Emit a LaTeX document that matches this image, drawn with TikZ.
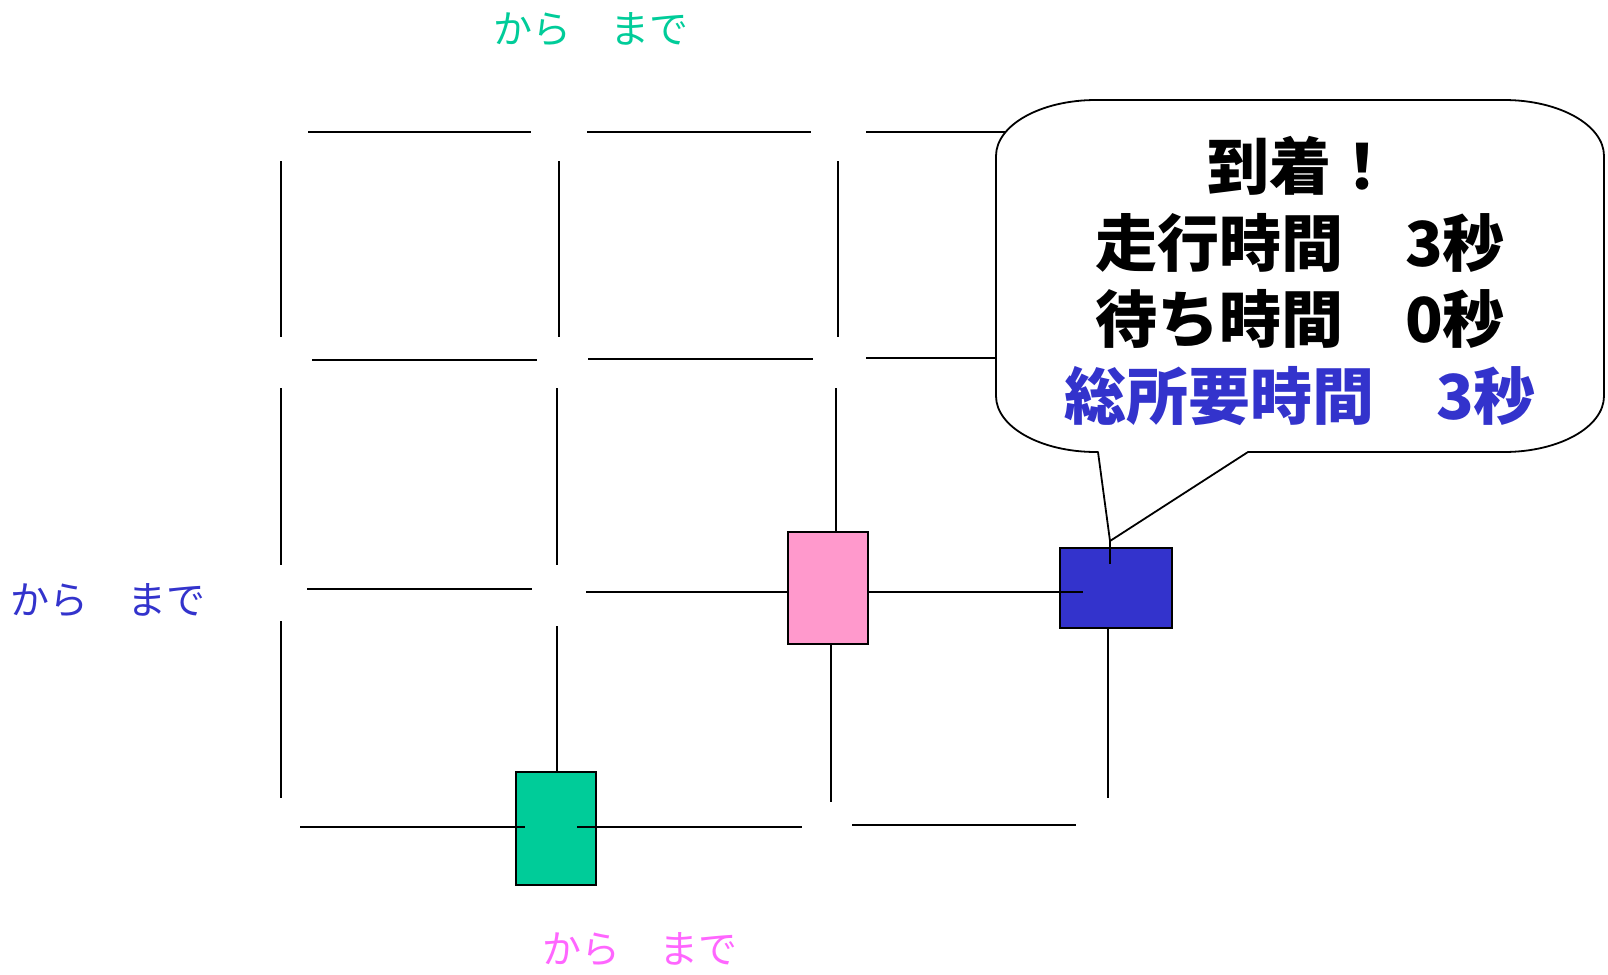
\documentclass[tikz,border=0pt]{standalone}
\usepackage{fontspec}
\newfontfamily\jp{Noto Sans CJK JP}
\definecolor{boxgreen}{RGB}{0,204,153}
\definecolor{boxpink}{RGB}{255,153,204}
\definecolor{boxblue}{RGB}{51,51,204}
\definecolor{txtpink}{RGB}{255,102,255}
\tikzset{
  grid/.style={line width=1.6pt, black},
  sqbox/.style={draw=black, line width=1.8pt, inner sep=0pt, outer sep=0pt},
  bubble/.style={draw=black, fill=white, line width=1.8pt, line join=round},
  bubtxt/.style={inner sep=0pt, anchor=base, font=\jp\bfseries\fontsize{62}{74}\selectfont},
  lbl/.style={inner sep=0pt, anchor=base, font=\jp\fontsize{39}{44}\selectfont}
}
\begin{document}
\begin{tikzpicture}[x=1pt,y=-1pt]
\useasboundingbox (0,0) rectangle (1608,974);
% horizontal grid segments
\draw[grid] (308,132) -- (531,132);
\draw[grid] (587,132) -- (811,132);
\draw[grid] (866,132) -- (1030,132);
\draw[grid] (312,360) -- (537,360);
\draw[grid] (588,359) -- (813,359);
\draw[grid] (866,358) -- (1010,358);
\draw[grid] (307,589) -- (532,589);
% vertical grid segments
\draw[grid] (281,161) -- (281,337);
\draw[grid] (559,161) -- (559,337);
\draw[grid] (838,161) -- (838,337);
\draw[grid] (281,388) -- (281,565);
\draw[grid] (557,388) -- (557,565);
\draw[grid] (281,621) -- (281,798);
% boxes
\node[sqbox, fill=boxgreen, minimum width=80pt, minimum height=113pt] (green) at (556,828.5) {};
\node[sqbox, fill=boxpink, minimum width=80pt, minimum height=112pt] (pink) at (828,588) {};
\node[sqbox, fill=boxblue, minimum width=112pt, minimum height=80pt] (blue) at (1116,588) {};
% connectors touching boxes
\draw[grid] (557,626) -- (557,0 |- green.north);
\draw[grid] (300,827) -- (525,827);
\draw[grid] (577,827) -- (802,827);
\draw[grid] (836,388) -- (836,0 |- pink.north);
\draw[grid] (831,0 |- pink.south) -- (831,802);
\draw[grid] (586,592) -- (pink.west |- 0,592);
\draw[grid] (pink.east |- 0,592) -- (1083,592);
\draw[grid] (852,825) -- (1076,825);
\draw[grid] (1108,0 |- blue.south) -- (1108,798);
% callout bubble
\coordinate (tip) at (1110,541);
\draw[bubble] (1096,100) -- (1504,100)
  .. controls (1559.2,100) and (1604,125) .. (1604,156) -- (1604,396)
  .. controls (1604,427) and (1559.2,452) .. (1504,452) -- (1248,452)
  -- (tip) -- (1098,452) -- (1096,452)
  .. controls (1040.8,452) and (996,427) .. (996,396) -- (996,156)
  .. controls (996,125) and (1040.8,100) .. (1096,100) -- cycle;
\draw[grid] (tip) -- (1110,564);
% bubble text
\node[bubtxt] (t1) at (1300,189.5) {到着！};
\node[bubtxt] (t2) at (1300,266) {走行時間　3秒};
\node[bubtxt] (t3) at (1300,342.5) {待ち時間　0秒};
\node[bubtxt, text=boxblue] (t4) at (1300,419.5) {総所要時間　3秒};
% labels
\node[lbl, text=boxgreen] (lgreen) at (590.5,43.5) {から　まで};
\node[lbl, text=boxblue] (lblue) at (107.5,614.5) {から　まで};
\node[lbl, text=txtpink] (lpink) at (640,963.5) {から　まで};
\end{tikzpicture}
\end{document}
